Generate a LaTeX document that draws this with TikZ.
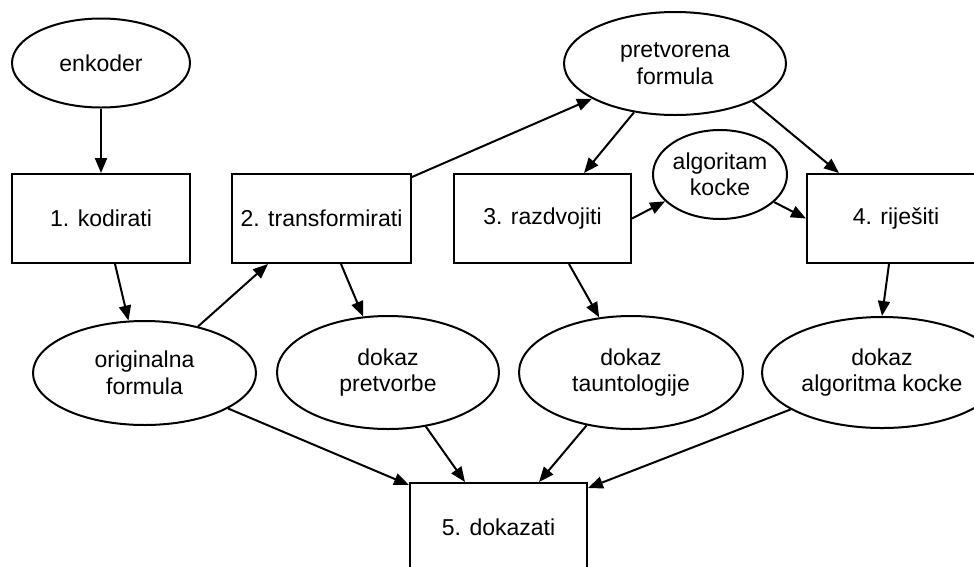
\documentclass[tikz,border=0pt]{standalone}
\usepackage{fontspec}
\setmainfont{Liberation Sans}
\usetikzlibrary{arrows.meta,shapes.geometric}

\begin{document}
\begin{tikzpicture}[x=1pt,y=-1pt,
    every node/.style={font=\fontsize{23}{26.5}\selectfont, align=center, inner sep=0pt},
    box/.style={draw, line width=2pt, rectangle, minimum width=178pt, minimum height=89pt},
    oval/.style={draw, line width=2pt, ellipse},
    arr/.style={line width=2pt, -{Triangle[length=15pt,width=12pt]}}]
    \useasboundingbox (0,0) rectangle (974,566);
    \clip (0,0) rectangle (974,566);
    % processing steps
    \node[box] (kod) at (101,218.5) {1. kodirati};
    \node[box, minimum width=179pt] (tra) at (321.5,218.5) {2. transformirati};
    \node[box, minimum width=177pt] (raz) at (542.5,218.5) {3. razdvojiti};
    \node[box] (rje) at (896,218.5) {4. riješiti};
    \node[box, minimum width=177pt] (dok) at (498.5,527.5) {5. dokazati};
    % data
    \node[oval, minimum width=178pt, minimum height=89pt] (enk) at (101,63) {enkoder};
    \node[oval, minimum width=222pt, minimum height=103pt] (pre) at (675,63.5) {pretvorena\\formula};
    \node[oval, minimum width=134pt, minimum height=89pt] (alg) at (720,174.5) {algoritam\\kocke};
    \node[oval, minimum width=223pt, minimum height=104pt] (org) at (144.5,373) {originalna\\formula};
    \node[oval, minimum width=222pt, minimum height=113pt] (dpr) at (388,372.5) {dokaz\\pretvorbe};
    \node[oval, minimum width=224pt, minimum height=113pt] (dta) at (631,372.5) {dokaz\\tauntologije};
    \node[oval, minimum width=240pt, minimum height=111pt] (dak) at (882,372.5) {dokaz\\algoritma kocke};
    % connectors
    \draw[arr] (enk.south) -- (kod.north);
    \draw[arr] ([xshift=14pt]kod.south) -- (org.107);
    \draw[arr] (org.41) -- ([xshift=-53.5pt]tra.south);
    \draw[arr] ([yshift=-4pt]tra.north east) -- (pre.203);
    \draw[arr] ([xshift=19.5pt]tra.south) -- (dpr.114);
    \draw[arr] (pre.230) -- ([xshift=41.5pt]raz.north);
    \draw[arr] (pre.-26) -- ([xshift=-57pt]rje.north);
    \draw[arr] (raz.east) -- (alg.206);
    \draw[arr] (alg.-27) -- (rje.west);
    \draw[arr] ([xshift=26.5pt]raz.south) -- (dta.120);
    \draw[arr] ([xshift=-7pt]rje.south) -- (dak.north);
    \draw[arr] (org.-23) -- ([yshift=-3pt]dok.north west);
    \draw[arr] (dpr.-55) -- ([xshift=-33.5pt]dok.north);
    \draw[arr] (dta.230) -- ([xshift=40.5pt]dok.north);
    \draw[arr] (dak.202) -- ([yshift=-6pt]dok.north east);
\end{tikzpicture}
\end{document}
